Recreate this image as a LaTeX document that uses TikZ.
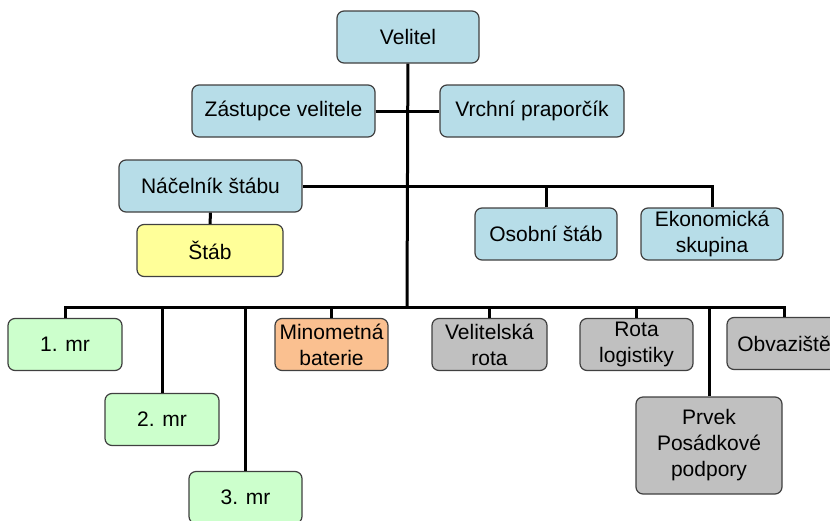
\documentclass[tikz,border=0pt]{standalone}
\usepackage{fontspec}
\setmainfont{Liberation Sans}
\definecolor{cmdblue}{HTML}{B7DDE8}
\definecolor{stabyellow}{HTML}{FFFF99}
\definecolor{mrgreen}{HTML}{CCFFCC}
\definecolor{batorange}{HTML}{FAC090}
\definecolor{supgray}{HTML}{C0C0C0}
\definecolor{boxedge}{HTML}{404040}
\begin{document}
\begin{tikzpicture}[
      x=1pt, y=-1pt,
      every node/.style={
        draw=boxedge,
        rounded corners=7pt,
        line width=1.2pt,
        text=black,
        align=center,
        inner sep=0pt,
        minimum height=52pt,
        font=\fontsize{21}{26}\selectfont   % label size
      },
      link/.style={line width=3pt}]
      \useasboundingbox (0,0) rectangle (830,520);

      \node[fill=cmdblue, minimum width=142pt] (vel) at (408,37) {Velitel};
      \node[fill=cmdblue, minimum width=183pt] (zast) at (283.5,111) {Zástupce velitele};
      \node[fill=cmdblue, minimum width=184pt] (vrch) at (532,111) {Vrchní praporčík};
      \node[fill=cmdblue, minimum width=183pt] (nac) at (210.5,186) {Náčelník štábu};
      \node[fill=stabyellow, minimum width=146pt] (stab) at (210,250.5) {Štáb};
      \node[fill=cmdblue, minimum width=142pt] (osob) at (546,234) {Osobní štáb};
      \node[fill=cmdblue, minimum width=142pt] (ekon) at (712,234) {Ekonomická\\skupina};

      \node[fill=mrgreen, minimum width=114pt] (mr1) at (65,344.5) {1. mr};
      \node[fill=mrgreen, minimum width=114pt] (mr2) at (162,419.5) {2. mr};
      \node[fill=mrgreen, minimum width=113pt] (mr3) at (245.5,497.5) {3. mr};
      \node[fill=batorange, minimum width=113pt] (mino) at (331.5,344.5) {Minometná\\baterie};
      \node[fill=supgray, minimum width=115pt] (velr) at (489.5,344.5) {Velitelská\\rota};
      \node[fill=supgray, minimum width=113pt] (rota) at (636.5,344.5) {Rota\\logistiky};
      \node[fill=supgray, minimum width=146pt, minimum height=97pt] (prvek) at (709,445.5) {Prvek\\Posádkové\\podpory};
      \node[fill=supgray, minimum width=114pt] (obv) at (784,343.5) {Obvaziště};

      \coordinate (bus) at (407,307);

      \draw[link] (vel) -- (bus);
      \draw[link] (zast) -- (vrch);
      \draw[link] (nac) -| (ekon);
      \draw[link] (osob) -- (osob |- nac);
      \draw[link] (nac) -- (stab);

      \draw[link] (mr1) |- (bus) -| (obv);
      \draw[link] (mr2) -- (mr2 |- bus);
      \draw[link] (mr3) -- (mr3 |- bus);
      \draw[link] (mino) -- (mino |- bus);
      \draw[link] (velr) -- (velr |- bus);
      \draw[link] (rota) -- (rota |- bus);
      \draw[link] (prvek) -- (prvek |- bus);
    \end{tikzpicture}
\end{document}
